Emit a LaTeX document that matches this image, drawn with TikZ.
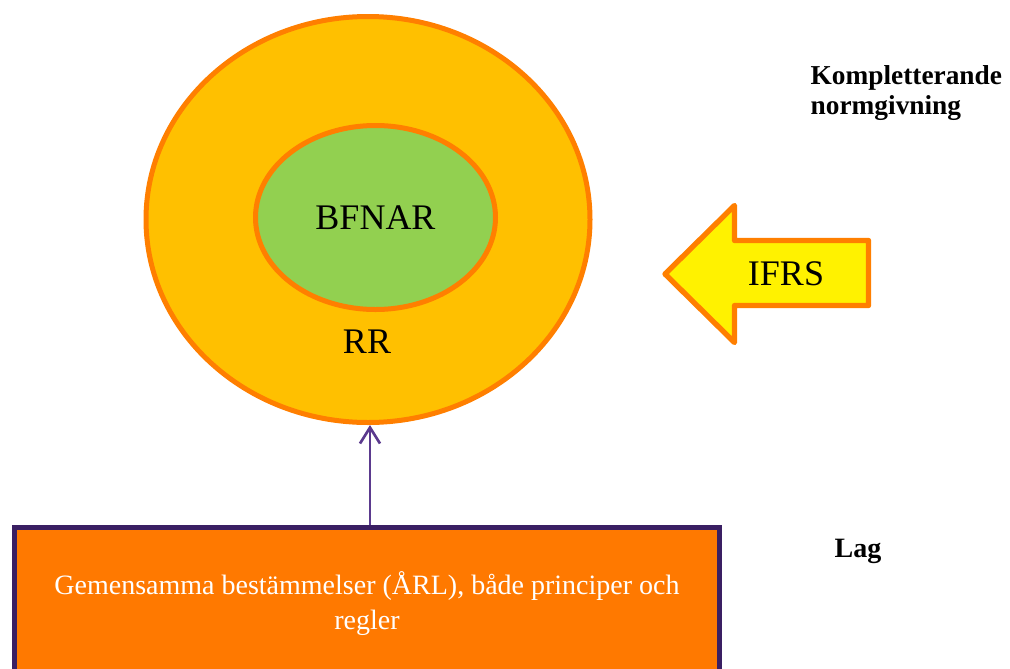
\documentclass[tikz,border=0pt]{standalone}
\usepackage{fontspec}
\setmainfont{Liberation Serif}
\usepackage{tikz}
\usetikzlibrary{shapes.geometric, arrows.meta, positioning, calc}

\definecolor{ringgold}{HTML}{FFC000}
\definecolor{ringline}{HTML}{FF7F00}
\definecolor{leafgreen}{HTML}{92D050}
\definecolor{lagorange}{HTML}{FF7900}
\definecolor{lagpurple}{HTML}{3A1F63}
\definecolor{linkpurple}{HTML}{5B3A8E}

\begin{document}
\begin{tikzpicture}[x=0.75pt, y=-0.75pt,
  ring/.style={ellipse, draw=ringline, line width=3.75pt, inner sep=0pt}]
\useasboundingbox (0,0) rectangle (1010,668);
\clip (0,0) rectangle (1010,668);

% Rings
\node[ring, fill=ringgold, minimum width=333pt, minimum height=304.5pt] (outer) at (368,219.5) {};
\node[ring, fill=leafgreen, minimum width=180pt, minimum height=138pt, font=\fontsize{27}{30}\selectfont] (bfnar) at (375.5,217.5) {BFNAR};
\node[font=\fontsize{27}{30}\selectfont] (rr) at (367,342) {RR};

% Incoming arrow
\draw[draw=ringline, fill=yellow, line width=4pt, line join=round]
  (665,274) -- (734.5,205.5) -- (734.5,240.5) -- (868.5,240.5)
  -- (868.5,305.5) -- (734.5,305.5) -- (734.5,342.5) -- cycle;
\node[font=\fontsize{27}{30}\selectfont] (ifrs) at (786,274) {IFRS};

% Law box
\node[draw=lagpurple, fill=lagorange, line width=3.75pt, minimum width=529pt, minimum height=114pt,
  text=white, align=center, font=\fontsize{21}{26}\selectfont] (lagbox) at (367,603.5)
  {Gemensamma bestämmelser (ÅRL), både principer och\\regler};
\draw[linkpurple, line width=2pt, -{Straight Barb[length=12pt, width=15pt]}] ([xshift=2.25pt]lagbox.north) -- ([xshift=1.5pt]outer.south);

% Side labels
\node[anchor=base west, align=left, font=\bfseries\fontsize{20.5}{22}\selectfont] (komp) at (806,114) {Kompletterande\\normgivning};
\node[anchor=base west, font=\bfseries\fontsize{21}{24}\selectfont] (lag) at (830,557) {Lag};
\end{tikzpicture}
\end{document}
